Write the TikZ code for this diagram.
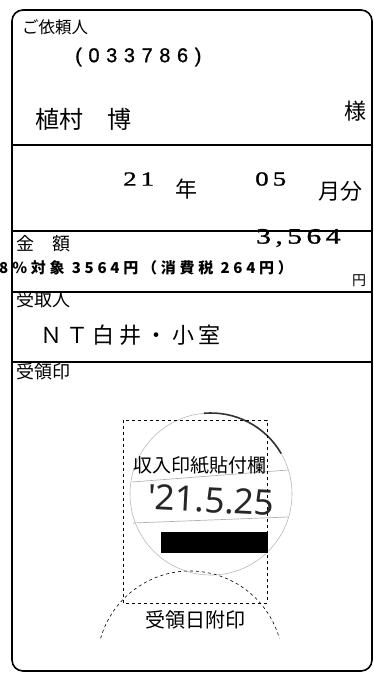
\documentclass[tikz,border=0pt]{standalone}
\usepackage{fontspec}
\setmainfont{Noto Sans CJK JP}
\newfontfamily\jpwide[LetterSpace=20]{Noto Sans CJK JP}
\newfontfamily\jptax[LetterSpace=25]{Noto Sans CJK JP}
\newfontfamily\digfont[FakeStretch=1.35, FakeBold=1.2, LetterSpace=20]{Liberation Serif}
\newfontfamily\codefont[FakeBold=1, LetterSpace=33]{Liberation Sans}
\newfontfamily\stampfont{Noto Sans}
\usepackage{tikz}
\usetikzlibrary{positioning}

\newcommand{\fsz}[1]{\fontsize{#1}{#1}\selectfont}

\begin{document}
\begin{tikzpicture}[x=1pt, y=-1pt,
  txt/.style={inner sep=0, anchor=west},
  rule/.style={line width=1.4pt}]
\useasboundingbox (0,0) rectangle (374,675);
% frame of the slip
\draw[line width=1.6pt, rounded corners=11pt] (12,10) rectangle (372,671);
\draw[rule] (12,145) -- (372,145);
\draw[rule] (12,231) -- (372,231);
\draw[rule] (12,292) -- (372,292);
\draw[rule] (12,362) -- (372,362);
% client
\node[txt] (irai) at (22,27) {\fsz{16.5}ご依頼人};
\node[txt] (code) at (75,57) {\codefont\fsz{20}(033786)};
\node[txt] (name) at (35,119) {\fsz{24}植村　博};
\node[txt] (sama) at (344,111) {\fsz{22}様};
% month
\node[txt] (yy) at (123,179) {\digfont\fsz{20}21};
\node[txt] (nen) at (175,189) {\fsz{22}年};
\node[txt] (mm) at (255,179) {\digfont\fsz{20}05};
\node[txt] (getsu) at (318,191) {\fsz{22}月分};
% amount
\node[txt] (kingaku) at (16,244) {\fsz{18}金　額};
\node[txt] (amount) at (256,238) {\digfont\fsz{22}3,564};
\node[txt] (tax) at (-1,268) {\jptax\fsz{15}\bfseries 8\hspace{4pt}\%対象 3564円（消費税 264円）};
\node[txt] (yen) at (352,281) {\fsz{14}円};
% receiver
\node[txt] (uketori) at (16,300) {\fsz{18}受取人};
\node[txt] (nt) at (40,335) {\jpwide\fsz{22}ＮＴ白井・小室};
\node[txt] (ryoin) at (16,372) {\fsz{18}受領印};
% stamp area
\draw[gray!55, line width=0.6pt] (211,494) circle[radius=81];
\draw[black!80, line width=1.6pt] (211,494) ++(-95:81) arc[start angle=-95, end angle=-30, radius=81];
\draw[gray!60, line width=0.7pt] (132,482) -- (288,470);
\draw[gray!60, line width=0.7pt] (133,523) -- (288,517);
\draw[dashed, line width=0.8pt] (123,420) rectangle (267,603);
\draw[dashed, line width=0.6pt] (190,664) ++(-164:93) arc[start angle=-164, end angle=-16, radius=93];
\node[txt] (inshi) at (133,465) {\fsz{19}収入印紙貼付欄};
\node[inner sep=0, rotate=-3, black!85] (date) at (211,500) {\stampfont\fsz{35}'21.5.25};
\fill (161,532) rectangle (268,553);
\node[inner sep=0] (hizuke) at (195,620) {\fsz{20}受領日附印};
\end{tikzpicture}
\end{document}
